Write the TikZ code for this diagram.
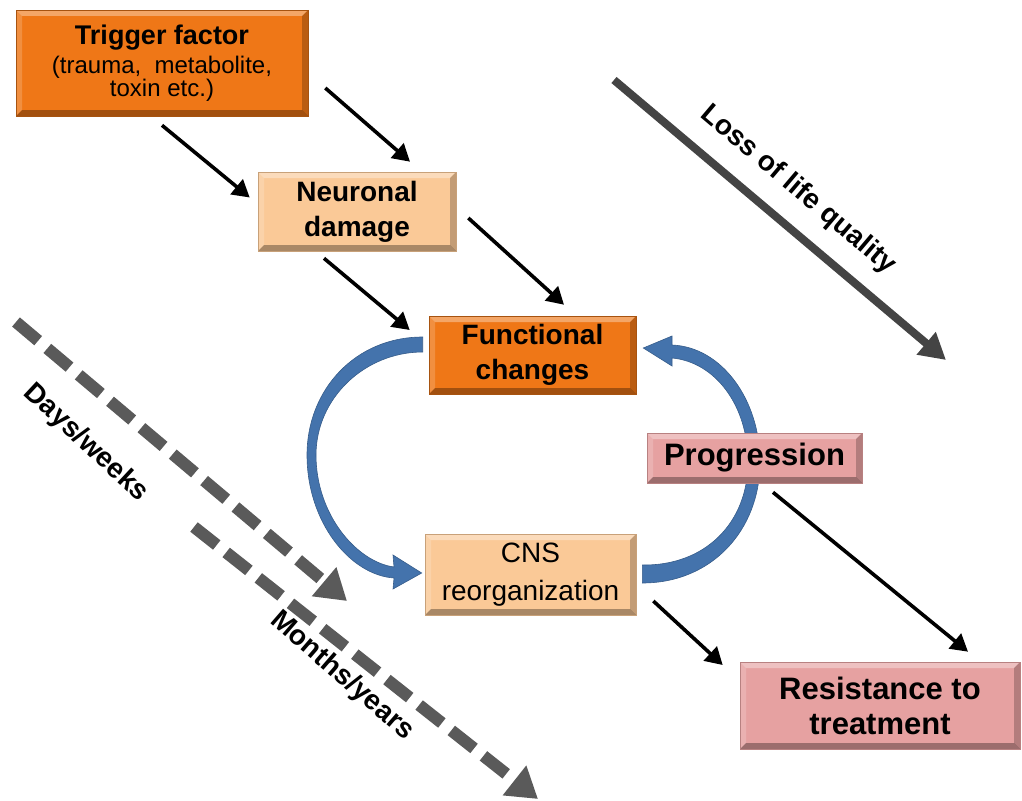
\documentclass[tikz,border=0pt]{standalone}
\usepackage{fontspec}
\setmainfont{Liberation Sans}
\usetikzlibrary{arrows.meta,calc,backgrounds}
\definecolor{orangeA}{HTML}{EF7717}
\definecolor{peachA}{HTML}{FAC997}
\definecolor{pinkA}{HTML}{E6A1A1}
\definecolor{blueA}{HTML}{4473AC}
\definecolor{grayA}{HTML}{444444}
\definecolor{grayB}{HTML}{5A5A5A}
\tikzset{
  bevel/.style={path picture={
    \fill[white,opacity=.35] (path picture bounding box.north west) -- (path picture bounding box.north east)
      -- ([shift={(-6pt,-6pt)}]path picture bounding box.north east) -- ([shift={(6pt,-6pt)}]path picture bounding box.north west) -- cycle;
    \fill[white,opacity=.18] (path picture bounding box.north west) -- ([shift={(6pt,-6pt)}]path picture bounding box.north west)
      -- ([shift={(6pt,6pt)}]path picture bounding box.south west) -- (path picture bounding box.south west) -- cycle;
    \fill[black,opacity=.32] (path picture bounding box.south west) -- (path picture bounding box.south east)
      -- ([shift={(-6pt,6pt)}]path picture bounding box.south east) -- ([shift={(6pt,6pt)}]path picture bounding box.south west) -- cycle;
    \fill[black,opacity=.22] (path picture bounding box.north east) -- (path picture bounding box.south east)
      -- ([shift={(-6pt,6pt)}]path picture bounding box.south east) -- ([shift={(-6pt,-6pt)}]path picture bounding box.north east) -- cycle;
  }},
  box/.style={rectangle, bevel, inner sep=0pt, align=center, text=black},
  orangebox/.style={box, fill=orangeA, draw=orangeA!70!black, line width=0.6pt},
  peachbox/.style={box, fill=peachA, draw=peachA!80!black, line width=0.6pt},
  pinkbox/.style={box, fill=pinkA, draw=pinkA!80!black, line width=0.6pt},
  blk/.style={line width=3.6pt, -{Triangle[length=17pt,width=19pt]}},
  solidgray/.style={grayA, line width=8pt, -{Triangle[length=26pt,width=28pt]}},
  dashgray/.style={grayB, line width=12pt, dash pattern=on 29pt off 12pt, -{Triangle[length=30pt,width=36pt]}},
  bigb/.style={font=\bfseries\fontsize{28}{35}\selectfont},
  hugeb/.style={font=\bfseries\fontsize{31}{35}\selectfont},
  lab/.style={font=\bfseries\fontsize{28}{32}\selectfont, inner sep=0pt},
  arcfill/.style={fill=blueA, draw=blueA!80!black, line width=0.6pt}
}
\begin{document}
\begin{tikzpicture}[x=1pt,y=-1pt]
\useasboundingbox (0,0) rectangle (1022,800);

% boxes
\node[orangebox, minimum width=292pt, minimum height=106pt] (trig) at (162,63)
  {{\bfseries\fontsize{27}{30}\selectfont Trigger factor}\\[5pt]
   {\fontsize{24}{27}\selectfont (trauma,\ \ metabolite,}\\[0pt]
   {\fontsize{24}{27}\selectfont toxin etc.)}};
\node[peachbox, minimum width=198pt, minimum height=79pt, bigb] (neur) at (357,211.5) {Neuronal\\damage};
\node[orangebox, minimum width=207pt, minimum height=78pt, bigb] (func) at (532.5,355) {Functional\\changes};
\node[pinkbox, minimum width=215pt, minimum height=50pt, hugeb] (prog) at (754.5,458) {Progression};
\node[peachbox, minimum width=211pt, minimum height=81pt, font=\fontsize{28}{38}\selectfont] (cns) at (530.5,574.5) {CNS\\reorganization};
\node[pinkbox, minimum width=280pt, minimum height=87pt, hugeb] (res) at (880,705.5) {Resistance to\\treatment};

% blue cycle arrows (behind boxes)
\begin{pgfonlayer}{background}
\path[arcfill] ($(func.west)+(-6,-18)$) .. controls (355,337) and (307,390) .. (307,455)
  .. controls (307,522) and (350,575) .. (394,578)
  -- (393,589) -- ($(cns.west)+(-3,-1.5)$) -- (393,555) -- (394,567)
  .. controls (357,562) and (316,515) .. (316,455)
  .. controls (316,398) and (365,352) .. ($(func.west)+(-6,-3)$) -- cycle;
\path[arcfill] ($(cns.east)+(6,8.5)$) .. controls (712,583) and (760,530) .. (760,462)
  .. controls (760,400) and (722,347) .. (672,345)
  -- (672,336) -- ($(func.east)+(7,-7)$) -- (672,366) -- (672,358)
  .. controls (715,362) and (748,405) .. (748,462)
  .. controls (748,523) and (705,566) .. ($(cns.east)+(6,-9.5)$) -- cycle;
\end{pgfonlayer}

% black arrows
\draw[blk] ($(trig.south)+(0,9)$) -- ($(neur.west)+(-8,-14)$);
\draw[blk] ($(trig.east)+(17,25)$) -- ($(neur.north)+(53,-10)$);
\draw[blk] ($(neur.south)+(-33,7)$) -- ($(func.west)+(-19,-25)$);
\draw[blk] ($(neur.east)+(12,6.5)$) -- ($(func.north)+(31.5,-11)$);
\draw[blk] ($(cns.east)+(17,26.5)$) -- ($(res.west)+(-17,-40.5)$);
\draw[blk] ($(prog.south)+(18.5,9)$) -- ($(res.north)+(88,-10)$);

% time / quality arrows
\coordinate (lqs) at (614,80);
\coordinate (lqe) at (946,360);
\draw[solidgray] (lqs) -- (lqe);
\node[lab, rotate=-40.3] (lql) at (798,190) {Loss of life quality};

\coordinate (dws) at (16,322);
\coordinate (dwe) at (347,601);
\draw[dashgray] (dws) -- (dwe);
\node[lab, rotate=-43] (dwl) at (86,443) {Days/weeks};

\coordinate (mys) at (194,527);
\coordinate (mye) at (538,799);
\draw[dashgray] (mys) -- (mye);
\node[lab, rotate=-41] (myl) at (342,676) {Months/years};
\end{tikzpicture}
\end{document}
